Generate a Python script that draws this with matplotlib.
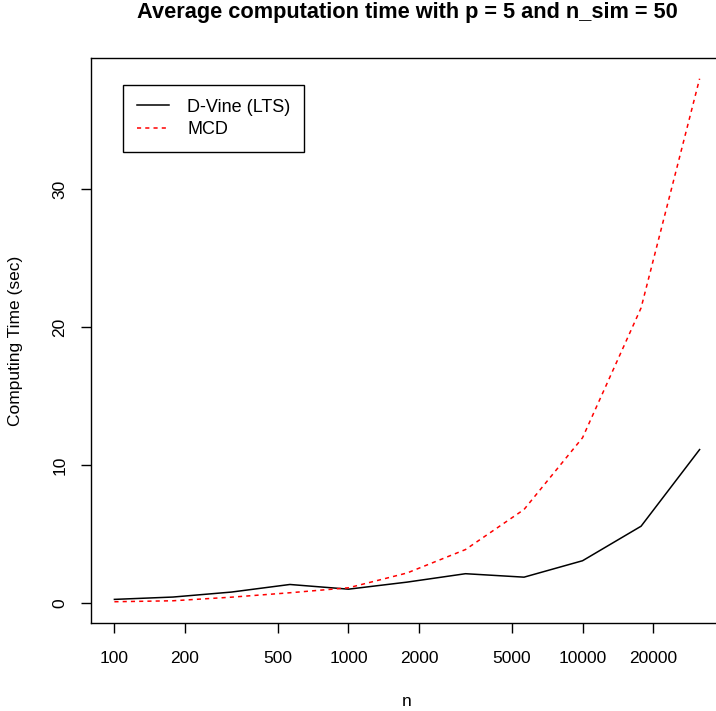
import numpy as np
import matplotlib
matplotlib.use('Agg')
import matplotlib.pyplot as plt

# sample sizes and average timings
n_list=[100, 178, 316, 562, 1000, 1778, 3162, 5623, 10000, 17783, 31623]
dvine_time=[0.29, 0.46, 0.82, 1.37, 1.03, 1.54, 2.15, 1.90, 3.09, 5.59, 11.14]
mcd_time=[0.12, 0.19, 0.45, 0.77, 1.13, 2.20, 3.90, 6.80, 12.0, 21.4, 38.0]

xtick_list=[100, 200, 500, 1000, 2000, 5000, 10000, 20000]
ytick_list=[0, 10, 20, 30]

plt.rcParams['font.family']=['Liberation Sans', 'DejaVu Sans']

fig=plt.figure(figsize=(7.16,7.11), dpi=100)
ax=fig.add_axes([91/716, 88/711, 632/716, 565/711])

ax.plot(n_list, dvine_time, color='black', lw=1.1, label='D-Vine (LTS)')
ax.plot(n_list, mcd_time, color='red', lw=1.1, linestyle=(0,(2.7,2.7)), label='MCD')

ax.set_xscale('log')
ax.set_xlim(10**1.9, 10**4.6)
ax.set_ylim(-1.42, 39.5)
ax.minorticks_off()
ax.set_xticks(xtick_list)
ax.set_xticklabels([str(v) for v in xtick_list])
ax.set_yticks(ytick_list)
ax.set_yticklabels([str(v) for v in ytick_list], rotation=90, va='center')
ax.tick_params(length=7, width=1, labelsize=12.5)
ax.tick_params(axis='x', pad=13)
ax.tick_params(axis='y', pad=10)

for sp in ax.spines.values():
    sp.set_linewidth(1)

ax.set_xlabel('n', fontsize=12.5)
ax.xaxis.set_label_coords(0.5, -0.125)
ax.set_ylabel('Computing Time (sec)', fontsize=12.5)
ax.yaxis.set_label_coords(-0.107, 0.5)

ax.text(0.5, 1.0798, 'Average computation time with p = 5 and n_sim = 50',
        transform=ax.transAxes, ha='center', va='center', fontsize=15.7, fontweight='bold')

leg=ax.legend(loc='upper left', bbox_to_anchor=(0.051, 0.952), fontsize=13,
              fancybox=False, edgecolor='black', framealpha=1,
              handlelength=1.8, handletextpad=1.0, labelspacing=0.3,
              borderpad=0.75, borderaxespad=0)
leg.get_frame().set_linewidth(1)

plt.savefig('out.png', dpi=100)
